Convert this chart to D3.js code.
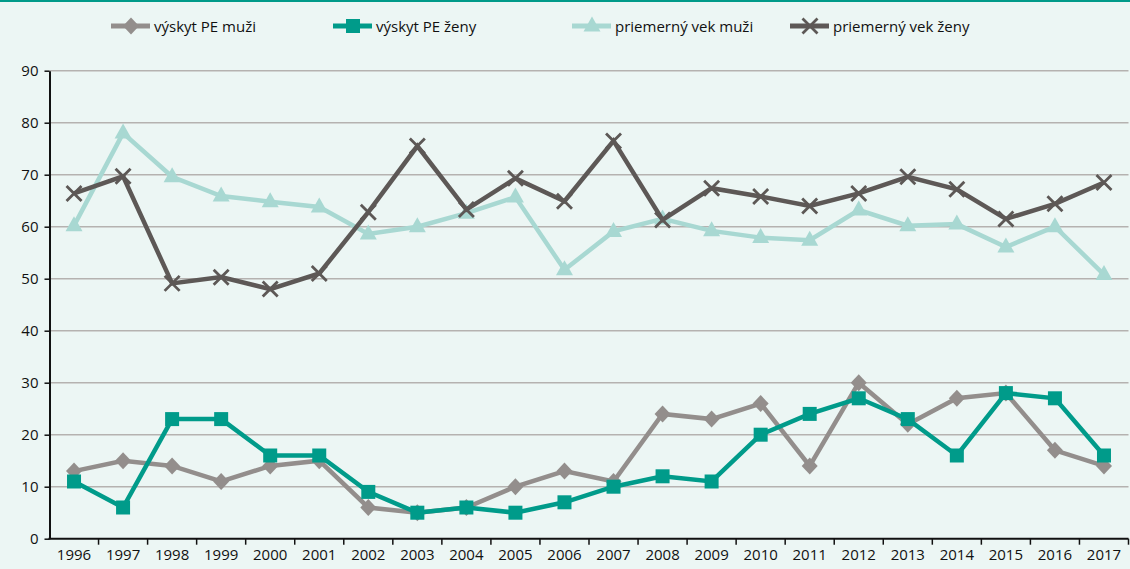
<!DOCTYPE html>
<html>
<head>
<meta charset="utf-8">
<script src="https://cdn.jsdelivr.net/npm/d3@7"></script>
<style>
  html, body { margin: 0; padding: 0; background: #ecf6f4; }
  svg { display: block; }
  text { font-family: "Open Sans", "Noto Sans", sans-serif; fill: #111; }
</style>
</head>
<body>
<svg id="chart" width="1130" height="569"></svg>
<script>
// Years on the horizontal axis
const years = ["1996","1997","1998","1999","2000","2001","2002","2003","2004","2005","2006",
               "2007","2008","2009","2010","2011","2012","2013","2014","2015","2016","2017"];

// Occurrence of PE, men
const vyskytMuzi = [13, 15, 14, 11, 14, 15, 6, 5, 6, 10, 13, 11, 24, 23, 26, 14, 30, 22, 27, 28, 17, 14];
// Occurrence of PE, women
const vyskytZeny = [11, 6, 23, 23, 16, 16, 9, 5, 6, 5, 7, 10, 12, 11, 20, 24, 27, 23, 16, 28, 27, 16];
// Average age, men
const vekMuzi = [60.2, 78, 69.6, 65.9, 64.8, 63.8, 58.6, 60, 62.6, 65.7, 51.7,
                 59.1, 61.5, 59.2, 57.9, 57.4, 63.2, 60.2, 60.5, 56.1, 60, 50.8];
// Average age, women
const vekZeny = [66.4, 69.7, 49.1, 50.3, 48, 51, 62.8, 75.5, 63.3, 69.3, 64.9,
                 76.5, 61.3, 67.4, 65.8, 64, 66.4, 69.6, 67.2, 61.5, 64.4, 68.5];

const yTicks = [0, 10, 20, 30, 40, 50, 60, 70, 80, 90];

const seriesNames = ["výskyt PE muži", "výskyt PE ženy", "priemerný vek muži", "priemerný vek ženy"];
const seriesData = [vyskytMuzi, vyskytZeny, vekMuzi, vekZeny];
const seriesColors = ["#938e8c", "#009b8a", "#a8d8d2", "#5d5856"];
const seriesMarkers = ["diamond", "square", "triangle", "cross"];

const svg = d3.select("#chart");
const W = 1130, H = 569;
const margin = { top: 70.7, right: 1.5, bottom: 30.3, left: 49.5 };

// top accent stripe
svg.append("rect").attr("x", 0).attr("y", 0).attr("width", W).attr("height", 2).attr("fill", "#009a89");

const x = d3.scaleBand().domain(years).range([margin.left, W - margin.right]);
const y = d3.scaleLinear().domain([0, 90]).range([H - margin.bottom, margin.top]);

// horizontal gridlines
svg.append("g")
  .selectAll("line")
  .data(yTicks.filter(d => d > 0))
  .join("line")
  .attr("x1", margin.left).attr("x2", W - margin.right)
  .attr("y1", d => y(d)).attr("y2", d => y(d))
  .attr("stroke", "#b5b2b0").attr("stroke-width", 1.5);

// y axis
const yAxis = svg.append("g")
  .attr("transform", `translate(${margin.left},0)`)
  .call(d3.axisLeft(y).tickValues(yTicks).tickSize(5).tickPadding(6).tickSizeOuter(0));
yAxis.select(".domain").attr("stroke", "#111").attr("stroke-width", 2);
yAxis.selectAll(".tick line").attr("stroke", "#111").attr("stroke-width", 1.5);
yAxis.selectAll(".tick text").attr("font-size", 15).attr("font-family", "Open Sans").attr("fill", "#111");

// x axis with ticks at band boundaries
const xAxisG = svg.append("g").attr("transform", `translate(0,${y(0)})`);
xAxisG.append("line")
  .attr("x1", margin.left - 1).attr("x2", W - margin.right)
  .attr("y1", 0).attr("y2", 0)
  .attr("stroke", "#111").attr("stroke-width", 2);
const boundaries = years.map(d => x(d)).concat([x(years[years.length - 1]) + x.bandwidth()]);
xAxisG.selectAll("line.tk")
  .data(boundaries.slice(1))
  .join("line")
  .attr("class", "tk")
  .attr("x1", d => d).attr("x2", d => d)
  .attr("y1", 0).attr("y2", 6)
  .attr("stroke", "#111").attr("stroke-width", 1.5);
xAxisG.selectAll("text")
  .data(years)
  .join("text")
  .attr("x", d => x(d) + x.bandwidth() / 2)
  .attr("y", 21)
  .attr("text-anchor", "middle")
  .attr("font-size", 15)
  .text(d => d);

// marker drawing
function drawMarker(g, type, color) {
  if (type === "diamond") {
    g.append("path").attr("d", "M0,-8.5L8,0L0,8.5L-8,0Z").attr("fill", color);
  } else if (type === "square") {
    g.append("rect").attr("x", -7).attr("y", -7).attr("width", 14).attr("height", 14).attr("fill", color);
  } else if (type === "triangle") {
    g.append("path").attr("d", "M0,-9.5L8.5,5.5L-8.5,5.5Z").attr("fill", color);
  } else if (type === "cross") {
    g.append("path").attr("d", "M-7.5,-7.5L7.5,7.5M-7.5,7.5L7.5,-7.5")
      .attr("stroke", color).attr("stroke-width", 2.8).attr("fill", "none");
  }
}

const line = d3.line()
  .x((d, i) => x(years[i]) + x.bandwidth() / 2)
  .y(d => y(d));

seriesData.forEach((data, si) => {
  const g = svg.append("g");
  g.append("path")
    .datum(data)
    .attr("d", line)
    .attr("fill", "none")
    .attr("stroke", seriesColors[si])
    .attr("stroke-width", 4.5)
    .attr("stroke-linejoin", "miter");
  data.forEach((v, i) => {
    const mg = g.append("g")
      .attr("transform", `translate(${x(years[i]) + x.bandwidth() / 2},${y(v)})`);
    drawMarker(mg, seriesMarkers[si], seriesColors[si]);
  });
});

// legend
const legendX = [111, 333, 572, 790];
const legend = svg.append("g").attr("transform", "translate(0,26)");
seriesNames.forEach((name, si) => {
  const lg = legend.append("g").attr("transform", `translate(${legendX[si]},0)`);
  lg.append("line").attr("x1", 0).attr("x2", 39).attr("y1", 0).attr("y2", 0)
    .attr("stroke", seriesColors[si]).attr("stroke-width", 5);
  const mg = lg.append("g").attr("transform", "translate(20,0)");
  drawMarker(mg, seriesMarkers[si], seriesColors[si]);
  lg.append("text").attr("x", 43).attr("y", 5.5).attr("font-size", 15).text(name);
});
</script>
</body>
</html>
